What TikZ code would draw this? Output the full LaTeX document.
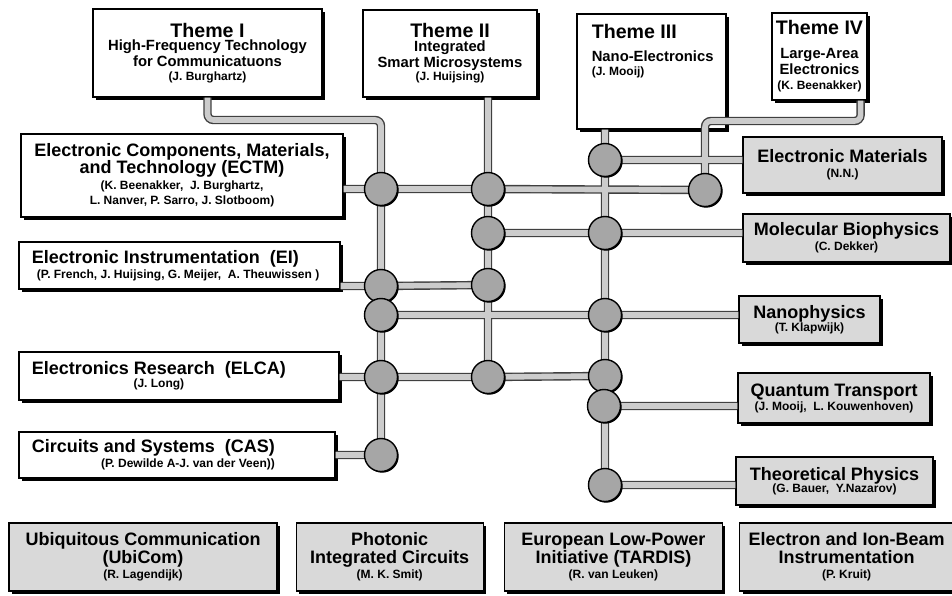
\documentclass[tikz,border=0pt]{standalone}
\usepackage{fontspec}
\setmainfont{Liberation Sans}
\usetikzlibrary{positioning,shadows}
\pgfdeclarelayer{front}
\pgfsetlayers{main,front}
\newcommand{\BsF}{\fontsize{6}{8}\selectfont\bfseries\lineskiplimit=-100pt}
\newcommand{\ThF}{\fontsize{9.8}{11}\selectfont\bfseries}
\newcommand{\SbF}{\fontsize{7.4}{8}\selectfont\bfseries}
\newcommand{\HdF}{\fontsize{9}{8.6}\selectfont\bfseries}
\tikzset{bx/.style={draw,line width=0.6pt,fill=white,align=center,inner sep=0pt,font=\BsF,
  drop shadow={shadow xshift=1.5pt,shadow yshift=-1.5pt,fill=black,opacity=1}},
 gbx/.style={bx,fill=gray!30},
 tx/.style={inner sep=0pt,font=\BsF},
 ball/.style={circle,draw,line width=0.7pt,fill=gray!70,minimum size=16.5pt,inner sep=0pt,
  drop shadow={shadow xshift=0.6pt,shadow yshift=-0.6pt,fill=black,opacity=1}},
 pedge/.style={draw=black!75,line width=4.2pt,rounded corners=3pt},
 pfill/.style={draw=gray!40,line width=2.8pt,rounded corners=3pt}}
% pipe network, drawn twice (edge, then fill)
\newcommand{\pipenet}{(th1.south) |- (k1) -- (a5)
 ([xshift=-3.5pt]th4.south east) |- (k4) -- (d1)
 (th2.south -| b1) -- (b4) (th3.south -| c1) -- (c6)
 (ectm.east |- a1) -- (a1) -- (b1) -- (d1) (c1) -- (emat.west |- c1)
 (b2) -- (c2) -- (molb.west |- b2) (ei.east |- a2) -- (a2) -- (b3)
 (a3) -- (c3) -- (nano.west |- a3) (elca.east |- a4) -- (a4) -- (b4) -- (c4)
 (c5) -- (qt.west |- c5) (c6) -- (tp.west |- c6) (cas.east |- a5) -- (a5)}

\begin{document}
\begin{tikzpicture}[x=0.5pt,y=-0.5pt]
\useasboundingbox (0,0) rectangle (952,595);
% themes
\node[bx,minimum width=114.5pt,minimum height=44pt](th1) at (207.5,53){\ThF Theme I\\[-1.3pt]\SbF High-Frequency Technology\\\SbF for Communicatuons\\[-1.3pt](J. Burghartz)};
\node[bx,minimum width=87pt,minimum height=43.5pt](th2) at (450,53.5){\ThF Theme II\\[-1.3pt]\SbF Integrated\\\SbF Smart Microsystems\\[-1.3pt](J. Huijsing)};
\node[bx,minimum width=74.5pt,minimum height=57.5pt](th3) at (651.5,71.5){};
\node[tx,align=left,below right=5pt and 7.5pt of th3.north west](th3t){\ThF Theme III\\[3.5pt]\SbF Nano-Electronics\\[-1pt](J. Mooij)};
\node[bx,minimum width=47.5pt,minimum height=43.5pt](th4) at (819.5,56.5){\ThF Theme IV\\[4pt]\SbF Large-Area\\\SbF Electronics\\[-0.5pt](K. Beenakker)};
% groups left
\node[bx,minimum width=161pt,minimum height=41.5pt](ectm) at (182,175.5){\HdF Electronic Components, Materials,\\[0.5pt]\HdF and Technology (ECTM)\\(K. Beenakker,\ \ J. Burghartz,\\[-0.5pt]L. Nanver, P. Sarro, J. Slotboom)};
\node[bx,minimum width=160.5pt,minimum height=23.5pt](ei) at (179.5,265.5){};
\node[tx,align=left,right=6.5pt of ei.west](eit){\HdF Electronic Instrumentation\ \ (EI)\\[-0.5pt]\hspace*{2.5pt}(P. French, J. Huijsing, G. Meijer,\ \ A. Theuwissen )};
\node[bx,minimum width=160pt,minimum height=24pt](elca) at (179,376){};
\node[tx,align=center,right=6.5pt of elca.west](elcat){\HdF Electronics Research\ \ (ELCA)\\[-1.5pt](J. Long)};
\node[bx,minimum width=158pt,minimum height=23pt](cas) at (177,455){};
\node[tx,align=right,right=6.5pt of cas.west](cast){\HdF Circuits and Systems\ \ (CAS)\\[-0.5pt](P. Dewilde A-J. van der Veen))};
% groups right
\node[gbx,minimum width=99.5pt,minimum height=28pt](emat) at (842.5,165){\HdF Electronic Materials\\[-0.5pt](N.N.)};
\node[gbx,minimum width=103.5pt,minimum height=24pt](molb) at (846.5,238){\HdF Molecular Biophysics\\[-0.5pt](C. Dekker)};
\node[gbx,minimum width=70.5pt,minimum height=23.5pt](nano) at (809.5,319.5){\HdF Nanophysics\\[-1.5pt](T. Klapwijk)};
\node[gbx,minimum width=96pt,minimum height=25pt](qt) at (834,398){\HdF Quantum Transport\\[-1pt](J. Mooij,\ \ L. Kouwenhoven)};
\node[gbx,minimum width=98.5pt,minimum height=24pt](tp) at (834.5,481){\HdF Theoretical Physics\\[-2pt](G. Bauer,\ \ Y.Nazarov)};
% bottom row
\node[gbx,minimum width=134pt,minimum height=34pt](ubi) at (143,557){\HdF Ubiquitous Communication\\[1pt]\HdF (UbiCom)\\[-0.5pt](R. Lagendijk)};
\node[gbx,minimum width=93.5pt,minimum height=34pt,right=9pt of ubi](phot){\HdF Photonic\\[1pt]\HdF Integrated Circuits\\[-0.5pt](M. K. Smit)};
\node[gbx,minimum width=109pt,minimum height=34pt,right=10pt of phot](tard){\HdF European Low-Power\\[1pt]\HdF Initiative (TARDIS)\\[-0.5pt](R. van Leuken)};
\node[gbx,minimum width=107pt,minimum height=34pt,right=8pt of tard](eib){\HdF Electron and Ion-Beam\\[1pt]\HdF Instrumentation\\[-0.5pt](P. Kruit)};
% junctions
\begin{pgfonlayer}{front}
\node[ball](a1) at (381,189){};\node[ball](a2) at (381,286){};\node[ball](a3) at (381,315){};
\node[ball](a4) at (381,377){};\node[ball](a5) at (381,455){};
\node[ball](b1) at (488,189){};\node[ball](b2) at (488,233){};\node[ball](b3) at (488,285){};\node[ball](b4) at (488,377){};
\node[ball](c1) at (605,160){};\node[ball](c2) at (605,233){};\node[ball](c3) at (605,315){};
\node[ball](c4) at (605,376){};\node[ball](c5) at (604,406){};\node[ball](c6) at (605,485){};
\node[ball](d1) at (705,190){};
\end{pgfonlayer}
\coordinate(k1) at (381,120);\coordinate(k4) at (705,121);
\draw[pedge] \pipenet;
\draw[pfill] \pipenet;
\end{tikzpicture}
\end{document}
